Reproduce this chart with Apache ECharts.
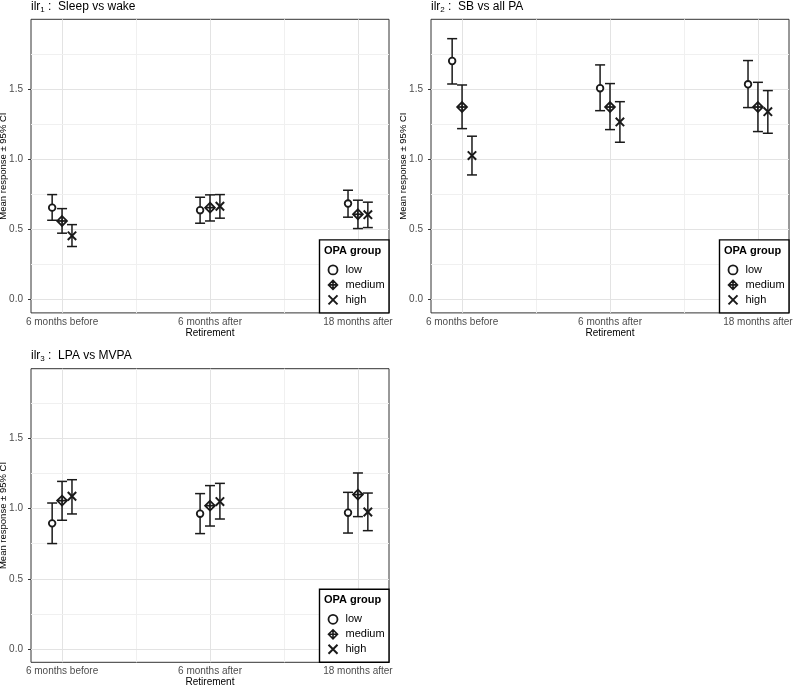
<!DOCTYPE html>
<html>
<head>
<meta charset="utf-8">
<title>ilr means by OPA group</title>
<script src="https://cdn.jsdelivr.net/npm/echarts@6.0.0/dist/echarts.min.js"></script>
<style>
  html, body { margin: 0; background: #fff; }
  #main { width: 794px; height: 687px; }
</style>
</head>
<body>
<div id="main"></div>
<script>
// categories
var times = ['6 months before', '6 months after', '18 months after'];
var groups = ['low', 'medium', 'high'];
var xBreaks = [1, 2, 3];
var xMinor = [1.5, 2.5];
var yTicks = [0, 0.5, 1.0, 1.5];
var yMinor = [0.25, 0.75, 1.25, 1.75];

var panelSub = ['1', '2', '3'];
var panelNames = ['Sleep vs wake', 'SB vs all PA', 'LPA vs MVPA'];

// rows: low, medium, high ; columns: times
var ilr1Mean  = [[0.655, 0.637, 0.684], [0.560, 0.655, 0.608], [0.454, 0.665, 0.605]];
var ilr1Lower = [[0.565, 0.544, 0.587], [0.473, 0.560, 0.506], [0.378, 0.580, 0.513]];
var ilr1Upper = [[0.748, 0.729, 0.779], [0.648, 0.746, 0.708], [0.534, 0.748, 0.694]];

var ilr2Mean  = [[1.700, 1.506, 1.534], [1.372, 1.372, 1.372], [1.026, 1.266, 1.339]];
var ilr2Lower = [[1.536, 1.346, 1.368], [1.218, 1.211, 1.197], [0.888, 1.121, 1.185]];
var ilr2Upper = [[1.859, 1.672, 1.703], [1.529, 1.539, 1.548], [1.164, 1.410, 1.489]];

var ilr3Mean  = [[0.895, 0.964, 0.971], [1.057, 1.021, 1.100], [1.088, 1.050, 0.976]];
var ilr3Lower = [[0.751, 0.822, 0.826], [0.917, 0.876, 0.943], [0.962, 0.926, 0.843]];
var ilr3Upper = [[1.040, 1.107, 1.116], [1.194, 1.164, 1.254], [1.206, 1.180, 1.111]];

var panelMean  = [ilr1Mean, ilr2Mean, ilr3Mean];
var panelLower = [ilr1Lower, ilr2Lower, ilr3Lower];
var panelUpper = [ilr1Upper, ilr2Upper, ilr3Upper];

var FONT = '"Liberation Sans", Arial, Helvetica, sans-serif';
var INK = '#1a1a1a';
var dodge = 0.067;

// panel layout (px)
var boxes = [
  { left: 31, top: 19.3 },
  { left: 431, top: 19.3 },
  { left: 31, top: 368.7 }
];
var boxW = 358, boxH = 293.6;

var myChart = echarts.init(document.getElementById('main'));

function makeRender(gi) {
  return function (params, api) {
    var x = api.value(0) + (gi - 1) * dodge;
    var p = api.coord([x, api.value(1)]);
    var lo = api.coord([x, api.value(2)]);
    var hi = api.coord([x, api.value(3)]);
    var cap = 5;
    var ls = { stroke: INK, lineWidth: 1.5, fill: null };
    var kids = [
      { type: 'line', shape: { x1: p[0], y1: lo[1], x2: p[0], y2: hi[1] }, style: ls },
      { type: 'line', shape: { x1: p[0] - cap, y1: lo[1], x2: p[0] + cap, y2: lo[1] }, style: ls },
      { type: 'line', shape: { x1: p[0] - cap, y1: hi[1], x2: p[0] + cap, y2: hi[1] }, style: ls }
    ];
    var ms = { stroke: INK, lineWidth: 1.8, fill: '#fff' };
    if (gi === 0) {
      kids.push({ type: 'circle', shape: { cx: p[0], cy: p[1], r: 3.3 }, style: ms });
    } else if (gi === 1) {
      var d = 4.9;
      kids.push({ type: 'polygon', shape: { points: [[p[0], p[1] - d], [p[0] + d, p[1]], [p[0], p[1] + d], [p[0] - d, p[1]]] }, style: ms });
      kids.push({ type: 'line', shape: { x1: p[0], y1: p[1] - d, x2: p[0], y2: p[1] + d }, style: ms });
      kids.push({ type: 'line', shape: { x1: p[0] - d, y1: p[1], x2: p[0] + d, y2: p[1] }, style: ms });
    } else {
      var c = 4.2;
      var xs = { stroke: INK, lineWidth: 2, fill: null };
      kids.push({ type: 'line', shape: { x1: p[0] - c, y1: p[1] - c, x2: p[0] + c, y2: p[1] + c }, style: xs });
      kids.push({ type: 'line', shape: { x1: p[0] - c, y1: p[1] + c, x2: p[0] + c, y2: p[1] - c }, style: xs });
    }
    return { type: 'group', children: kids };
  };
}

var grids = [], xAxes = [], yAxes = [], titles = [], legends = [], series = [], graphics = [];

var legendData = [
  { name: 'low', icon: 'circle', itemStyle: { color: '#fff', borderColor: INK, borderWidth: 1.8 } },
  { name: 'medium', icon: 'path://M5,0L10,5L5,10L0,5ZM5,0L5,10M0,5L10,5', itemStyle: { color: '#fff', borderColor: INK, borderWidth: 1.6 } },
  { name: 'high', icon: 'path://M0,0L10,10M10,0L0,10', itemStyle: { color: 'rgba(0,0,0,0)', borderColor: INK, borderWidth: 2 } }
];

boxes.forEach(function (b, pi) {
  grids.push({ left: b.left, top: b.top, width: boxW, height: boxH, show: true,
    outerBoundsMode: 'none', containLabel: false,
    borderColor: '#333', borderWidth: 1, backgroundColor: '#fff' });

  xAxes.push({
    gridIndex: pi, type: 'value', min: 0.79, max: 3.21,
    splitLine: { show: false }, axisLine: { show: false },
    axisTick: { show: true, customValues: xBreaks, length: 3, lineStyle: { color: '#333' } },
    axisLabel: { customValues: xBreaks, margin: 4, color: '#4d4d4d', fontSize: 10, fontFamily: FONT,
      formatter: function (v) { return times[Math.round(v) - 1]; } },
    name: 'Retirement', nameLocation: 'middle', nameGap: 15, nameMoveOverlap: false,
    nameTextStyle: { color: '#000', fontSize: 10, fontFamily: FONT }
  });

  yAxes.push({
    gridIndex: pi, type: 'value', min: -0.095, max: 1.997,
    splitLine: { show: false }, axisLine: { show: false },
    axisTick: { show: true, customValues: yTicks, length: 3, lineStyle: { color: '#333' } },
    axisLabel: { customValues: yTicks, margin: 8, color: '#4d4d4d', fontSize: 10, fontFamily: FONT,
      formatter: function (v) { return v.toFixed(1); } },
    name: 'Mean response \u00b1 95% CI', nameLocation: 'middle', nameGap: 23, nameMoveOverlap: false,
    nameTextStyle: { color: '#000', fontSize: 9.5, fontFamily: FONT }
  });

  titles.push({
    left: b.left, top: b.top - 20, padding: 0,
    text: '{a|ilr}{s|' + panelSub[pi] + '}{a| :  ' + panelNames[pi] + '}',
    textStyle: { fontWeight: 'normal', rich: {
      a: { fontSize: 12, color: '#000', fontFamily: FONT, fontWeight: 'normal', lineHeight: 14 },
      s: { fontSize: 8, color: '#000', fontFamily: FONT, fontWeight: 'normal', verticalAlign: 'bottom', lineHeight: 9 }
    } }
  });

  // background grid lines
  var gl = [];
  xBreaks.forEach(function (v) { gl.push({ xAxis: v, lineStyle: { color: '#e3e3e3', width: 1 } }); });
  xMinor.forEach(function (v) { gl.push({ xAxis: v, lineStyle: { color: '#f0f0f0', width: 1 } }); });
  yTicks.forEach(function (v) { gl.push({ yAxis: v, lineStyle: { color: '#e3e3e3', width: 1 } }); });
  yMinor.forEach(function (v) { gl.push({ yAxis: v, lineStyle: { color: '#f0f0f0', width: 1 } }); });
  series.push({
    type: 'line', xAxisIndex: pi, yAxisIndex: pi, data: [], z: 1, silent: true,
    markLine: { silent: true, z: 1, symbol: ['none', 'none'], label: { show: false },
      lineStyle: { type: 'solid' }, animation: false, data: gl }
  });

  groups.forEach(function (g, gi) {
    var rows = times.map(function (t, ti) {
      return [xBreaks[ti], panelMean[pi][gi][ti], panelLower[pi][gi][ti], panelUpper[pi][gi][ti]];
    });
    series.push({
      name: g, type: 'custom', xAxisIndex: pi, yAxisIndex: pi, z: 3,
      itemStyle: { color: INK },
      renderItem: makeRender(gi), data: rows, animation: false
    });
  });

  // legend inside bottom-right of panel
  var lx = b.left + boxW - 70, ly = b.top + boxH - 73.5;
  graphics.push({ type: 'rect', z: 5, shape: { x: lx + 0.5, y: ly + 0.5, width: 69.5, height: 73 },
    style: { fill: '#fff', stroke: '#000', lineWidth: 1.4 } });
  graphics.push({ type: 'text', z: 6, x: lx + 5, y: ly + 6,
    style: { text: 'OPA group', fill: '#000', font: 'bold 11px ' + FONT } });
  legends.push({
    orient: 'vertical', left: lx + 8.5, top: ly + 25, padding: 0, z: 10,
    itemWidth: 9, itemHeight: 9, itemGap: 4, selectedMode: false,
    textStyle: { fontSize: 11, color: '#000', fontFamily: FONT, padding: [0, 0, 0, 3] },
    data: legendData
  });
});

var option = {
  backgroundColor: '#fff',
  animation: false,
  title: titles,
  grid: grids,
  xAxis: xAxes,
  yAxis: yAxes,
  legend: legends,
  graphic: graphics,
  series: series
};
myChart.setOption(option);
</script>
</body>
</html>
